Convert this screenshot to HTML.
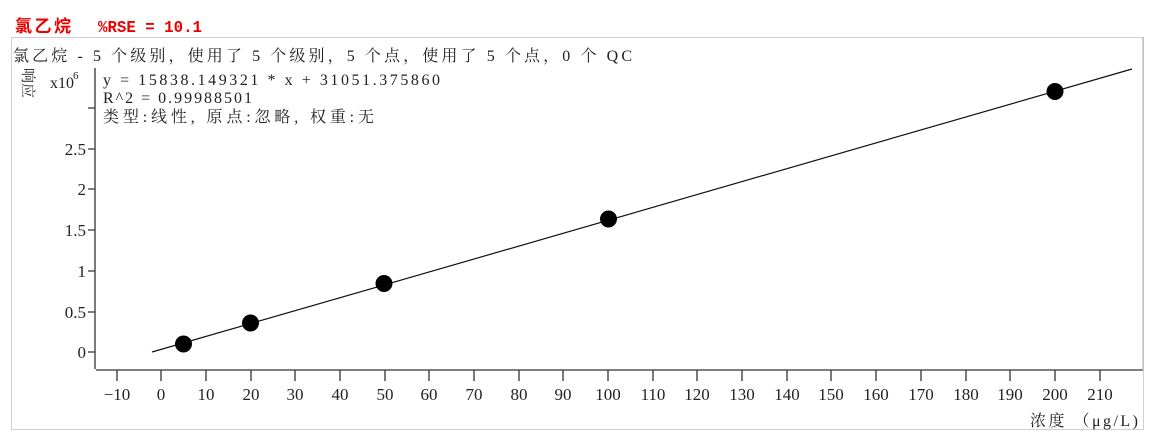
<!DOCTYPE html><html><head><meta charset="utf-8"><style>body{margin:0;background:#fff}svg{display:block}text{font-family:"Liberation Serif","Noto Serif CJK SC",serif}</style></head><body>
<svg width="1155" height="444" xmlns="http://www.w3.org/2000/svg">
<text x="15" y="32" font-size="17" font-weight="bold" fill="#e00" textLength="56" style="font-family:'Liberation Sans','Noto Sans CJK SC',sans-serif">氯乙烷</text>
<text x="98" y="32" font-size="17" font-weight="bold" fill="#e00" textLength="104" lengthAdjust="spacingAndGlyphs" style="font-family:'Liberation Mono','Noto Sans CJK SC',monospace">%RSE = 10.1</text>
<rect x="11.5" y="37.5" width="1132" height="392" fill="none" stroke="#d0d0d0"/>
<text x="13" y="61" font-size="16" fill="#222" textLength="619">氯乙烷 - 5 个级别，使用了 5 个级别，5 个点，使用了 5 个点，0 个 QC</text>
<text x="0" y="0" font-size="15" fill="#222" transform="translate(23,68) rotate(90)">响应</text>
<text x="50" y="88" font-size="16" fill="#222">x10</text><text x="73" y="79" font-size="11" fill="#222">6</text>
<text x="103" y="85" font-size="16" fill="#222" textLength="337">y = 15838.149321 * x  + 31051.375860</text>
<text x="103" y="103" font-size="16" fill="#222" textLength="149">R^2 = 0.99988501</text>
<text x="103" y="122" font-size="16" fill="#222" textLength="271">类型:线性, 原点:忽略, 权重:无</text>
<g stroke="#333" stroke-width="1.3" fill="none">
<line x1="95" y1="68" x2="95" y2="369"/>
<line x1="96" y1="370" x2="1143" y2="370"/>
<line x1="1143" y1="37" x2="1143" y2="370" stroke="#bbb"/>
<path d="M88 352H95M88 312H95M88 271H95M88 230H95M88 189H95M88 149H95M88 108H95"/>
<path d="M117 370V381M161 370V381M206 370V381M251 370V381M295 370V381M340 370V381M385 370V381M429 370V381M474 370V381M519 370V381M563 370V381M608 370V381M653 370V381M697 370V381M742 370V381M787 370V381M831 370V381M876 370V381M921 370V381M966 370V381M1010 370V381M1055 370V381M1100 370V381"/>
</g>
<g font-size="17" fill="#222" text-anchor="end">
<text x="86" y="358">0</text><text x="86" y="318">0.5</text><text x="86" y="277">1</text><text x="86" y="236">1.5</text><text x="86" y="195">2</text><text x="86" y="155">2.5</text>
</g>
<g font-size="17" fill="#222" text-anchor="middle">
<text x="117" y="400">−10</text><text x="161" y="400">0</text><text x="206" y="400">10</text><text x="251" y="400">20</text><text x="295" y="400">30</text><text x="340" y="400">40</text><text x="385" y="400">50</text><text x="429" y="400">60</text><text x="474" y="400">70</text><text x="519" y="400">80</text><text x="563" y="400">90</text><text x="608" y="400">100</text><text x="653" y="400">110</text><text x="697" y="400">120</text><text x="742" y="400">130</text><text x="787" y="400">140</text><text x="831" y="400">150</text><text x="876" y="400">160</text><text x="921" y="400">170</text><text x="966" y="400">180</text><text x="1010" y="400">190</text><text x="1055" y="400">200</text><text x="1100" y="400">210</text>
</g>
<text x="1030" y="426" font-size="16" fill="#222" textLength="108">浓度 （μg/L)</text>
<line x1="152" y1="352" x2="1132" y2="69" stroke="#111" stroke-width="1.2"/>
<g fill="#000">
<circle cx="183.5" cy="344" r="8.5"/><circle cx="250.5" cy="323" r="8.5"/><circle cx="384" cy="283.5" r="8.5"/><circle cx="608.5" cy="219" r="8.5"/><circle cx="1055" cy="91.5" r="8.5"/>
</g>
</svg></body></html>
